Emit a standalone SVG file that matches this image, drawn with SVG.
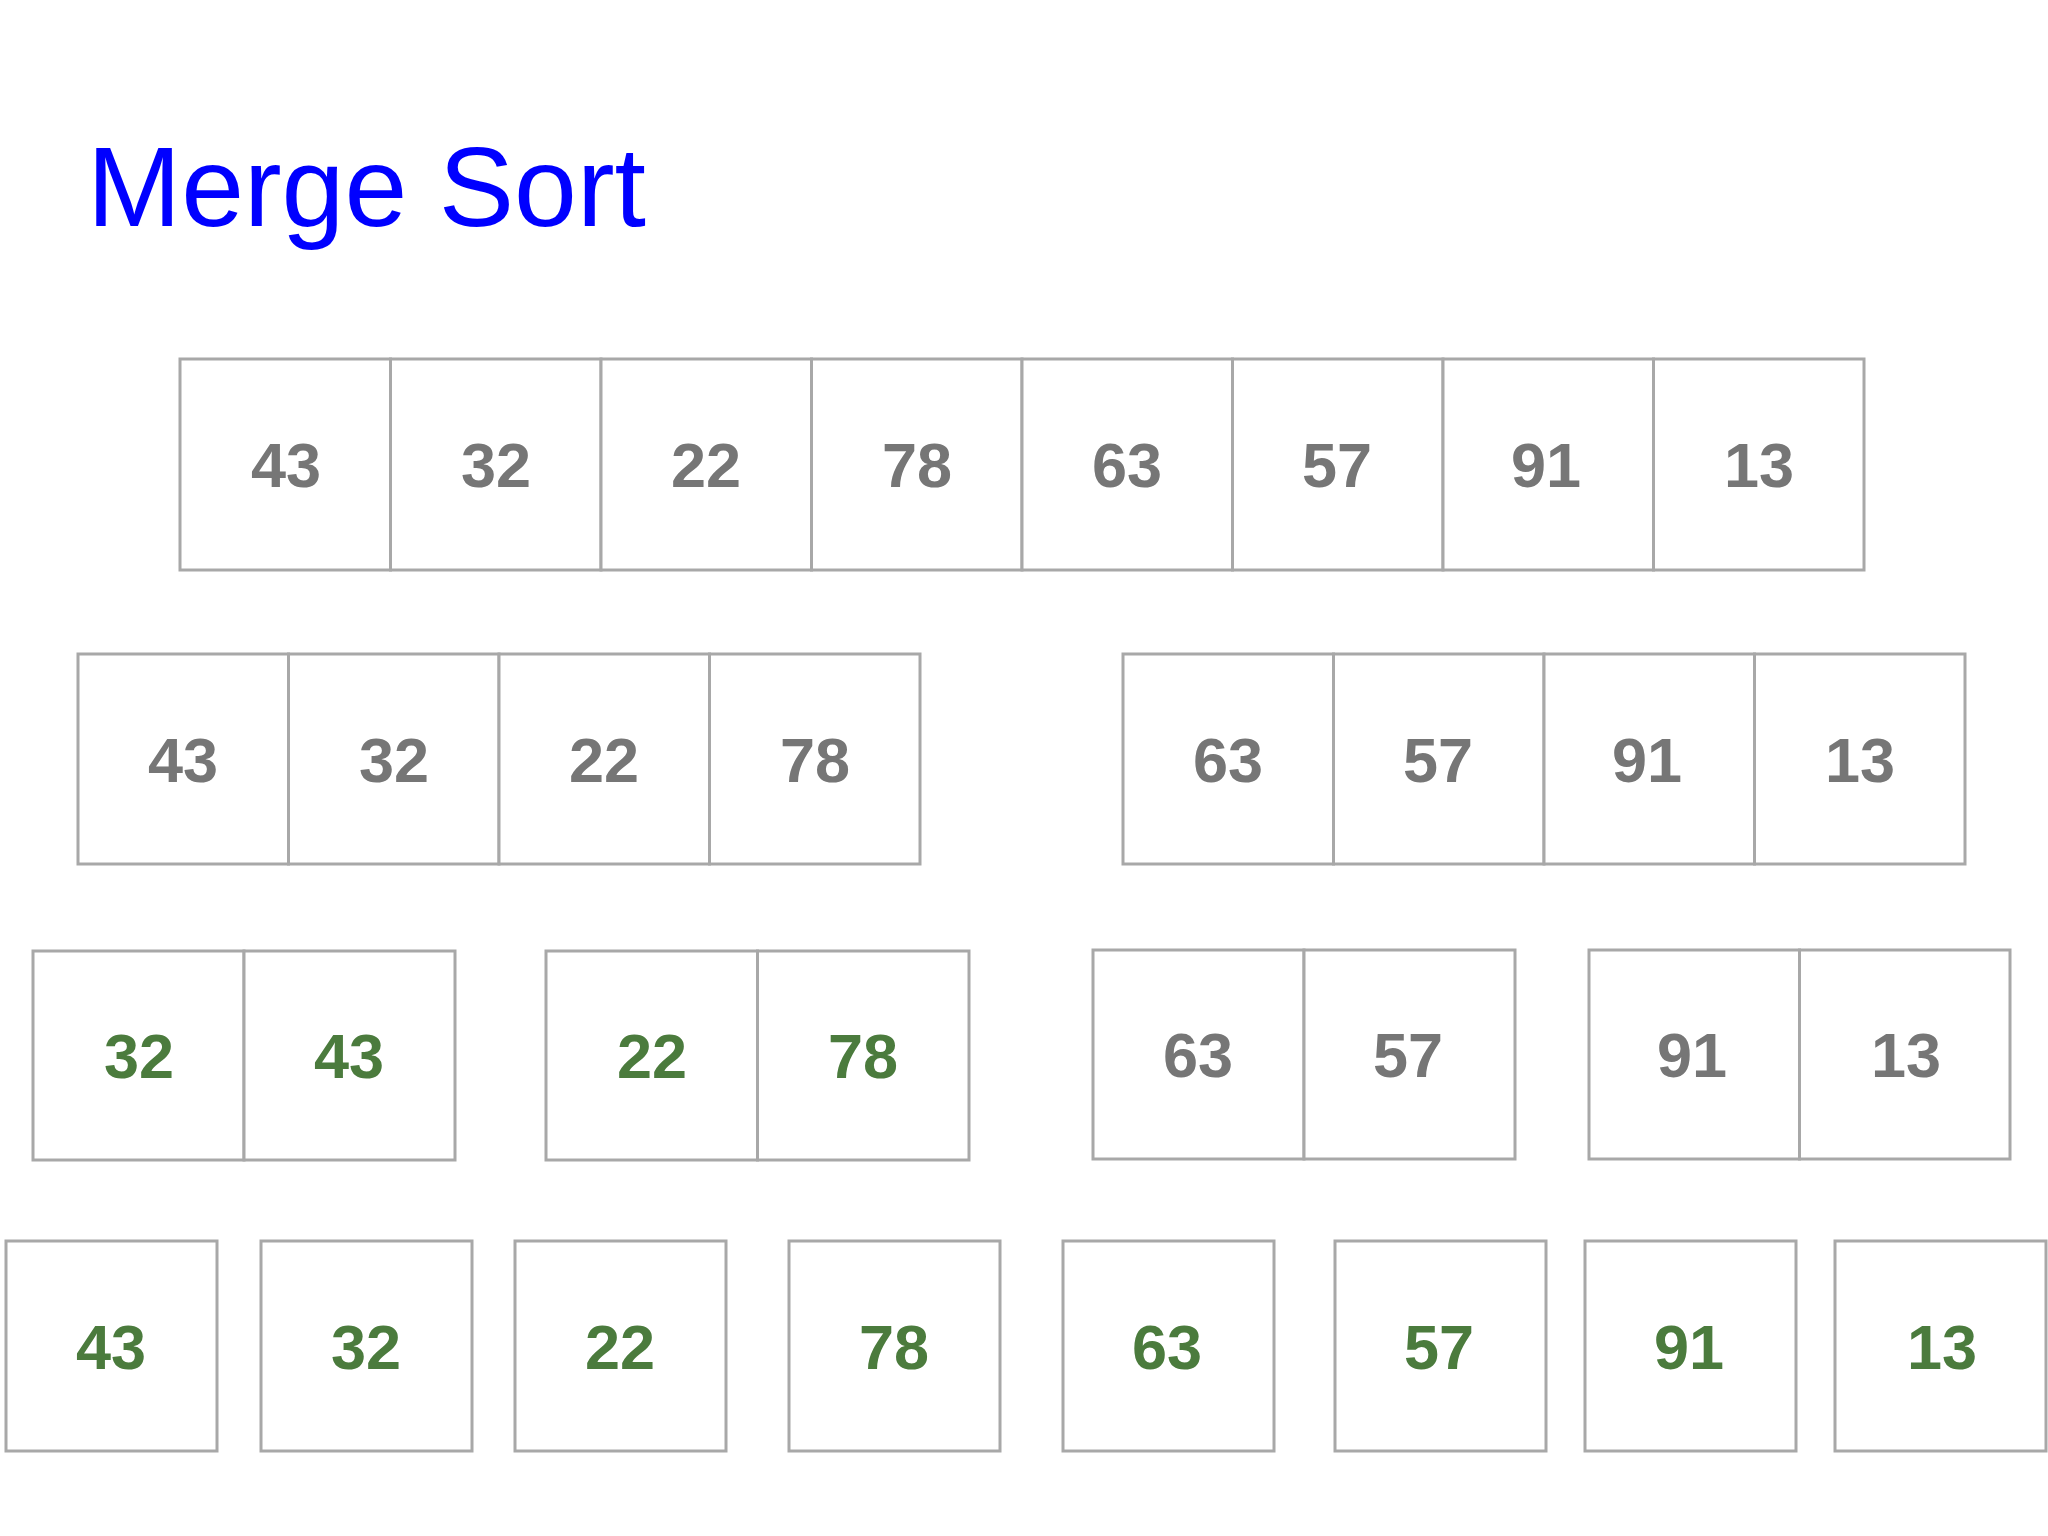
<svg xmlns="http://www.w3.org/2000/svg" width="2048" height="1536" viewBox="0 0 2048 1536">
<style>
.cell{fill:#ffffff;stroke:#a8a8a8;stroke-width:3}
.n{font-family:"Liberation Sans",Arial,Helvetica,sans-serif;font-weight:bold;font-size:63px;text-anchor:middle}
.g{fill:#767676}
.s{fill:#4b7b3d}
.title{font-family:"Liberation Sans",Arial,Helvetica,sans-serif;font-size:113px;fill:#0000ff}
</style>
<rect width="2048" height="1536" fill="#ffffff"/>
<text class="title" x="87" y="226">Merge Sort</text>

<!-- Row 1 -->
<g id="row1">
<rect class="cell" x="180" y="359" width="210.5" height="211"/>
<rect class="cell" x="390.5" y="359" width="210.5" height="211"/>
<rect class="cell" x="601" y="359" width="210.5" height="211"/>
<rect class="cell" x="811.5" y="359" width="210.5" height="211"/>
<rect class="cell" x="1022" y="359" width="210.5" height="211"/>
<rect class="cell" x="1232.5" y="359" width="210.5" height="211"/>
<rect class="cell" x="1443" y="359" width="210.5" height="211"/>
<rect class="cell" x="1653.5" y="359" width="210.5" height="211"/>
<text class="n g" x="286" y="487">43</text>
<text class="n g" x="496" y="487">32</text>
<text class="n g" x="706" y="487">22</text>
<text class="n g" x="917" y="487">78</text>
<text class="n g" x="1127" y="487">63</text>
<text class="n g" x="1337" y="487">57</text>
<text class="n g" x="1546" y="487">91</text>
<text class="n g" x="1759" y="487">13</text>
</g>

<!-- Row 2 -->
<g id="row2-left">
<rect class="cell" x="78" y="654" width="210.5" height="210"/>
<rect class="cell" x="288.5" y="654" width="210.5" height="210"/>
<rect class="cell" x="499" y="654" width="210.5" height="210"/>
<rect class="cell" x="709.5" y="654" width="210.5" height="210"/>
<text class="n g" x="183" y="782">43</text>
<text class="n g" x="394" y="782">32</text>
<text class="n g" x="604" y="782">22</text>
<text class="n g" x="815" y="782">78</text>
</g>
<g id="row2-right">
<rect class="cell" x="1123" y="654" width="210.5" height="210"/>
<rect class="cell" x="1333.5" y="654" width="210.5" height="210"/>
<rect class="cell" x="1544" y="654" width="210.5" height="210"/>
<rect class="cell" x="1754.5" y="654" width="210.5" height="210"/>
<text class="n g" x="1228" y="782">63</text>
<text class="n g" x="1438" y="782">57</text>
<text class="n g" x="1647" y="782">91</text>
<text class="n g" x="1860" y="782">13</text>
</g>

<!-- Row 3 -->
<g id="row3-a">
<rect class="cell" x="33" y="951" width="211" height="209"/>
<rect class="cell" x="244" y="951" width="211" height="209"/>
<text class="n s" x="139" y="1078">32</text>
<text class="n s" x="349" y="1078">43</text>
</g>
<g id="row3-b">
<rect class="cell" x="546" y="951" width="211.5" height="209"/>
<rect class="cell" x="757.5" y="951" width="211.5" height="209"/>
<text class="n s" x="652" y="1078">22</text>
<text class="n s" x="863" y="1078">78</text>
</g>
<g id="row3-c">
<rect class="cell" x="1093" y="950" width="211" height="209"/>
<rect class="cell" x="1304" y="950" width="211" height="209"/>
<text class="n g" x="1198" y="1077">63</text>
<text class="n g" x="1408" y="1077">57</text>
</g>
<g id="row3-d">
<rect class="cell" x="1589" y="950" width="210.5" height="209"/>
<rect class="cell" x="1799.5" y="950" width="210.5" height="209"/>
<text class="n g" x="1692" y="1077">91</text>
<text class="n g" x="1906" y="1077">13</text>
</g>

<!-- Row 4 -->
<g id="row4-43"><rect class="cell" x="6" y="1241" width="211" height="210"/><text class="n s" x="111" y="1369">43</text></g>
<g id="row4-32"><rect class="cell" x="261" y="1241" width="211" height="210"/><text class="n s" x="366" y="1369">32</text></g>
<g id="row4-22"><rect class="cell" x="515" y="1241" width="211" height="210"/><text class="n s" x="620" y="1369">22</text></g>
<g id="row4-78"><rect class="cell" x="789" y="1241" width="211" height="210"/><text class="n s" x="894" y="1369">78</text></g>
<g id="row4-63"><rect class="cell" x="1063" y="1241" width="211" height="210"/><text class="n s" x="1167" y="1369">63</text></g>
<g id="row4-57"><rect class="cell" x="1335" y="1241" width="211" height="210"/><text class="n s" x="1439" y="1369">57</text></g>
<g id="row4-91"><rect class="cell" x="1585" y="1241" width="211" height="210"/><text class="n s" x="1689" y="1369">91</text></g>
<g id="row4-13"><rect class="cell" x="1835" y="1241" width="211" height="210"/><text class="n s" x="1942" y="1369">13</text></g>
</svg>
